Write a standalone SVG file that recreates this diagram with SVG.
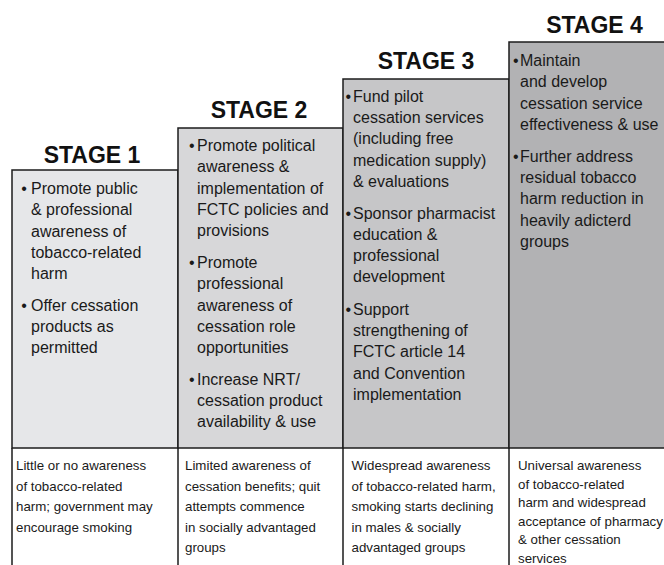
<svg xmlns="http://www.w3.org/2000/svg" width="664" height="565" viewBox="0 0 664 565">
<style>
.box{stroke:#1c1c1c;stroke-width:1.5}
.ln{stroke:#1c1c1c;stroke-width:1.5;fill:none}
.hd{font-family:"Liberation Sans",Arial,sans-serif;font-weight:bold;font-size:23px;fill:#111;text-anchor:middle}
.tx{font-family:"Liberation Sans",Arial,sans-serif;font-size:16px;fill:#1a1a1a}
.bu{font-family:"Liberation Sans",Arial,sans-serif;font-size:16px;fill:#1a1a1a;text-anchor:middle}
.sm{font-family:"Liberation Sans",Arial,sans-serif;font-size:13.3px;fill:#1a1a1a}
</style>
<rect width="664" height="565" fill="#fff"/>
<g id="stage1">
<rect class="box" x="12" y="170" width="166" height="278" fill="#e6e7e9"/>
<text class="hd" x="92" y="163">STAGE 1</text>
<text class="bu" x="24" y="194">•</text>
<text class="tx"><tspan x="31" y="194">Promote public</tspan><tspan x="31" y="215.3">&amp; professional</tspan><tspan x="31" y="236.6">awareness of</tspan><tspan x="31" y="258">tobacco-related</tspan><tspan x="31" y="279.3">harm</tspan></text>
<text class="bu" x="24" y="310.7">•</text>
<text class="tx"><tspan x="31" y="310.7">Offer cessation</tspan><tspan x="31" y="332">products as</tspan><tspan x="31" y="353.3">permitted</tspan></text>
<text class="sm"><tspan x="16" y="470">Little or no awareness</tspan><tspan x="16" y="490.6">of tobacco-related</tspan><tspan x="16" y="511.2">harm; government may</tspan><tspan x="16" y="531.8">encourage smoking</tspan></text>
</g>
<g id="stage2">
<rect class="box" x="178" y="128" width="165" height="320" fill="#d7d7d9"/>
<text class="hd" x="259" y="118">STAGE 2</text>
<text class="bu" x="191.7" y="151">•</text>
<text class="tx"><tspan x="197" y="151">Promote political</tspan><tspan x="197" y="172.3">awareness &amp;</tspan><tspan x="197" y="193.6">implementation of</tspan><tspan x="197" y="215">FCTC policies and</tspan><tspan x="197" y="236.3">provisions</tspan></text>
<text class="bu" x="191.7" y="268">•</text>
<text class="tx"><tspan x="197" y="268">Promote</tspan><tspan x="197" y="289.3">professional</tspan><tspan x="197" y="310.6">awareness of</tspan><tspan x="197" y="332">cessation role</tspan><tspan x="197" y="353.3">opportunities</tspan></text>
<text class="bu" x="191.7" y="384.7">•</text>
<text class="tx"><tspan x="197" y="384.7">Increase NRT/</tspan><tspan x="197" y="406">cessation product</tspan><tspan x="197" y="427.3">availability &amp; use</tspan></text>
<text class="sm"><tspan x="185" y="470">Limited awareness of</tspan><tspan x="185" y="490.6">cessation benefits; quit</tspan><tspan x="185" y="511.2">attempts commence</tspan><tspan x="185" y="531.8">in socially advantaged</tspan><tspan x="185" y="552.4">groups</tspan></text>
</g>
<g id="stage3">
<rect class="box" x="343" y="79" width="166" height="369" fill="#c6c6c8"/>
<text class="hd" x="426" y="69">STAGE 3</text>
<text class="bu" x="348.3" y="101.7">•</text>
<text class="tx"><tspan x="353" y="101.7">Fund pilot</tspan><tspan x="353" y="123">cessation services</tspan><tspan x="353" y="144.3">(including free</tspan><tspan x="353" y="165.7">medication supply)</tspan><tspan x="353" y="187">&amp; evaluations</tspan></text>
<text class="bu" x="348.3" y="218.5">•</text>
<text class="tx"><tspan x="353" y="218.5">Sponsor pharmacist</tspan><tspan x="353" y="239.8">education &amp;</tspan><tspan x="353" y="261.1">professional</tspan><tspan x="353" y="282.4">development</tspan></text>
<text class="bu" x="348.3" y="314.7">•</text>
<text class="tx"><tspan x="353" y="314.7">Support</tspan><tspan x="353" y="336">strengthening of</tspan><tspan x="353" y="357.4">FCTC article 14</tspan><tspan x="353" y="378.8">and Convention</tspan><tspan x="353" y="400.2">implementation</tspan></text>
<text class="sm"><tspan x="351.5" y="470">Widespread awareness</tspan><tspan x="351.5" y="490.6">of tobacco-related harm,</tspan><tspan x="351.5" y="511.2">smoking starts declining</tspan><tspan x="351.5" y="531.8">in males &amp; socially</tspan><tspan x="351.5" y="552.4">advantaged groups</tspan></text>
</g>
<g id="stage4">
<rect class="box" x="509" y="42" width="165" height="406" fill="#b2b2b4"/>
<text class="hd" x="594.5" y="33">STAGE 4</text>
<text class="bu" x="515.7" y="66">•</text>
<text class="tx"><tspan x="520" y="66">Maintain</tspan><tspan x="520" y="87.3">and develop</tspan><tspan x="520" y="108.6">cessation service</tspan><tspan x="520" y="130">effectiveness &amp; use</tspan></text>
<text class="bu" x="515.7" y="161.7">•</text>
<text class="tx"><tspan x="520" y="161.7">Further address</tspan><tspan x="520" y="183">residual tobacco</tspan><tspan x="520" y="204.3">harm reduction in</tspan><tspan x="520" y="225.6">heavily adicterd</tspan><tspan x="520" y="247">groups</tspan></text>
<text class="sm"><tspan x="518" y="470">Universal awareness</tspan><tspan x="518" y="488.6">of tobacco-related</tspan><tspan x="518" y="507.2">harm and widespread</tspan><tspan x="518" y="525.8">acceptance of pharmacy</tspan><tspan x="518" y="544.4">&amp; other cessation</tspan><tspan x="518" y="563">services</tspan></text>
</g>
<g id="connectors">
<path class="ln" d="M12 448V566M178 448V566M343 448V566M509 448V566"/>
</g>
</svg>
